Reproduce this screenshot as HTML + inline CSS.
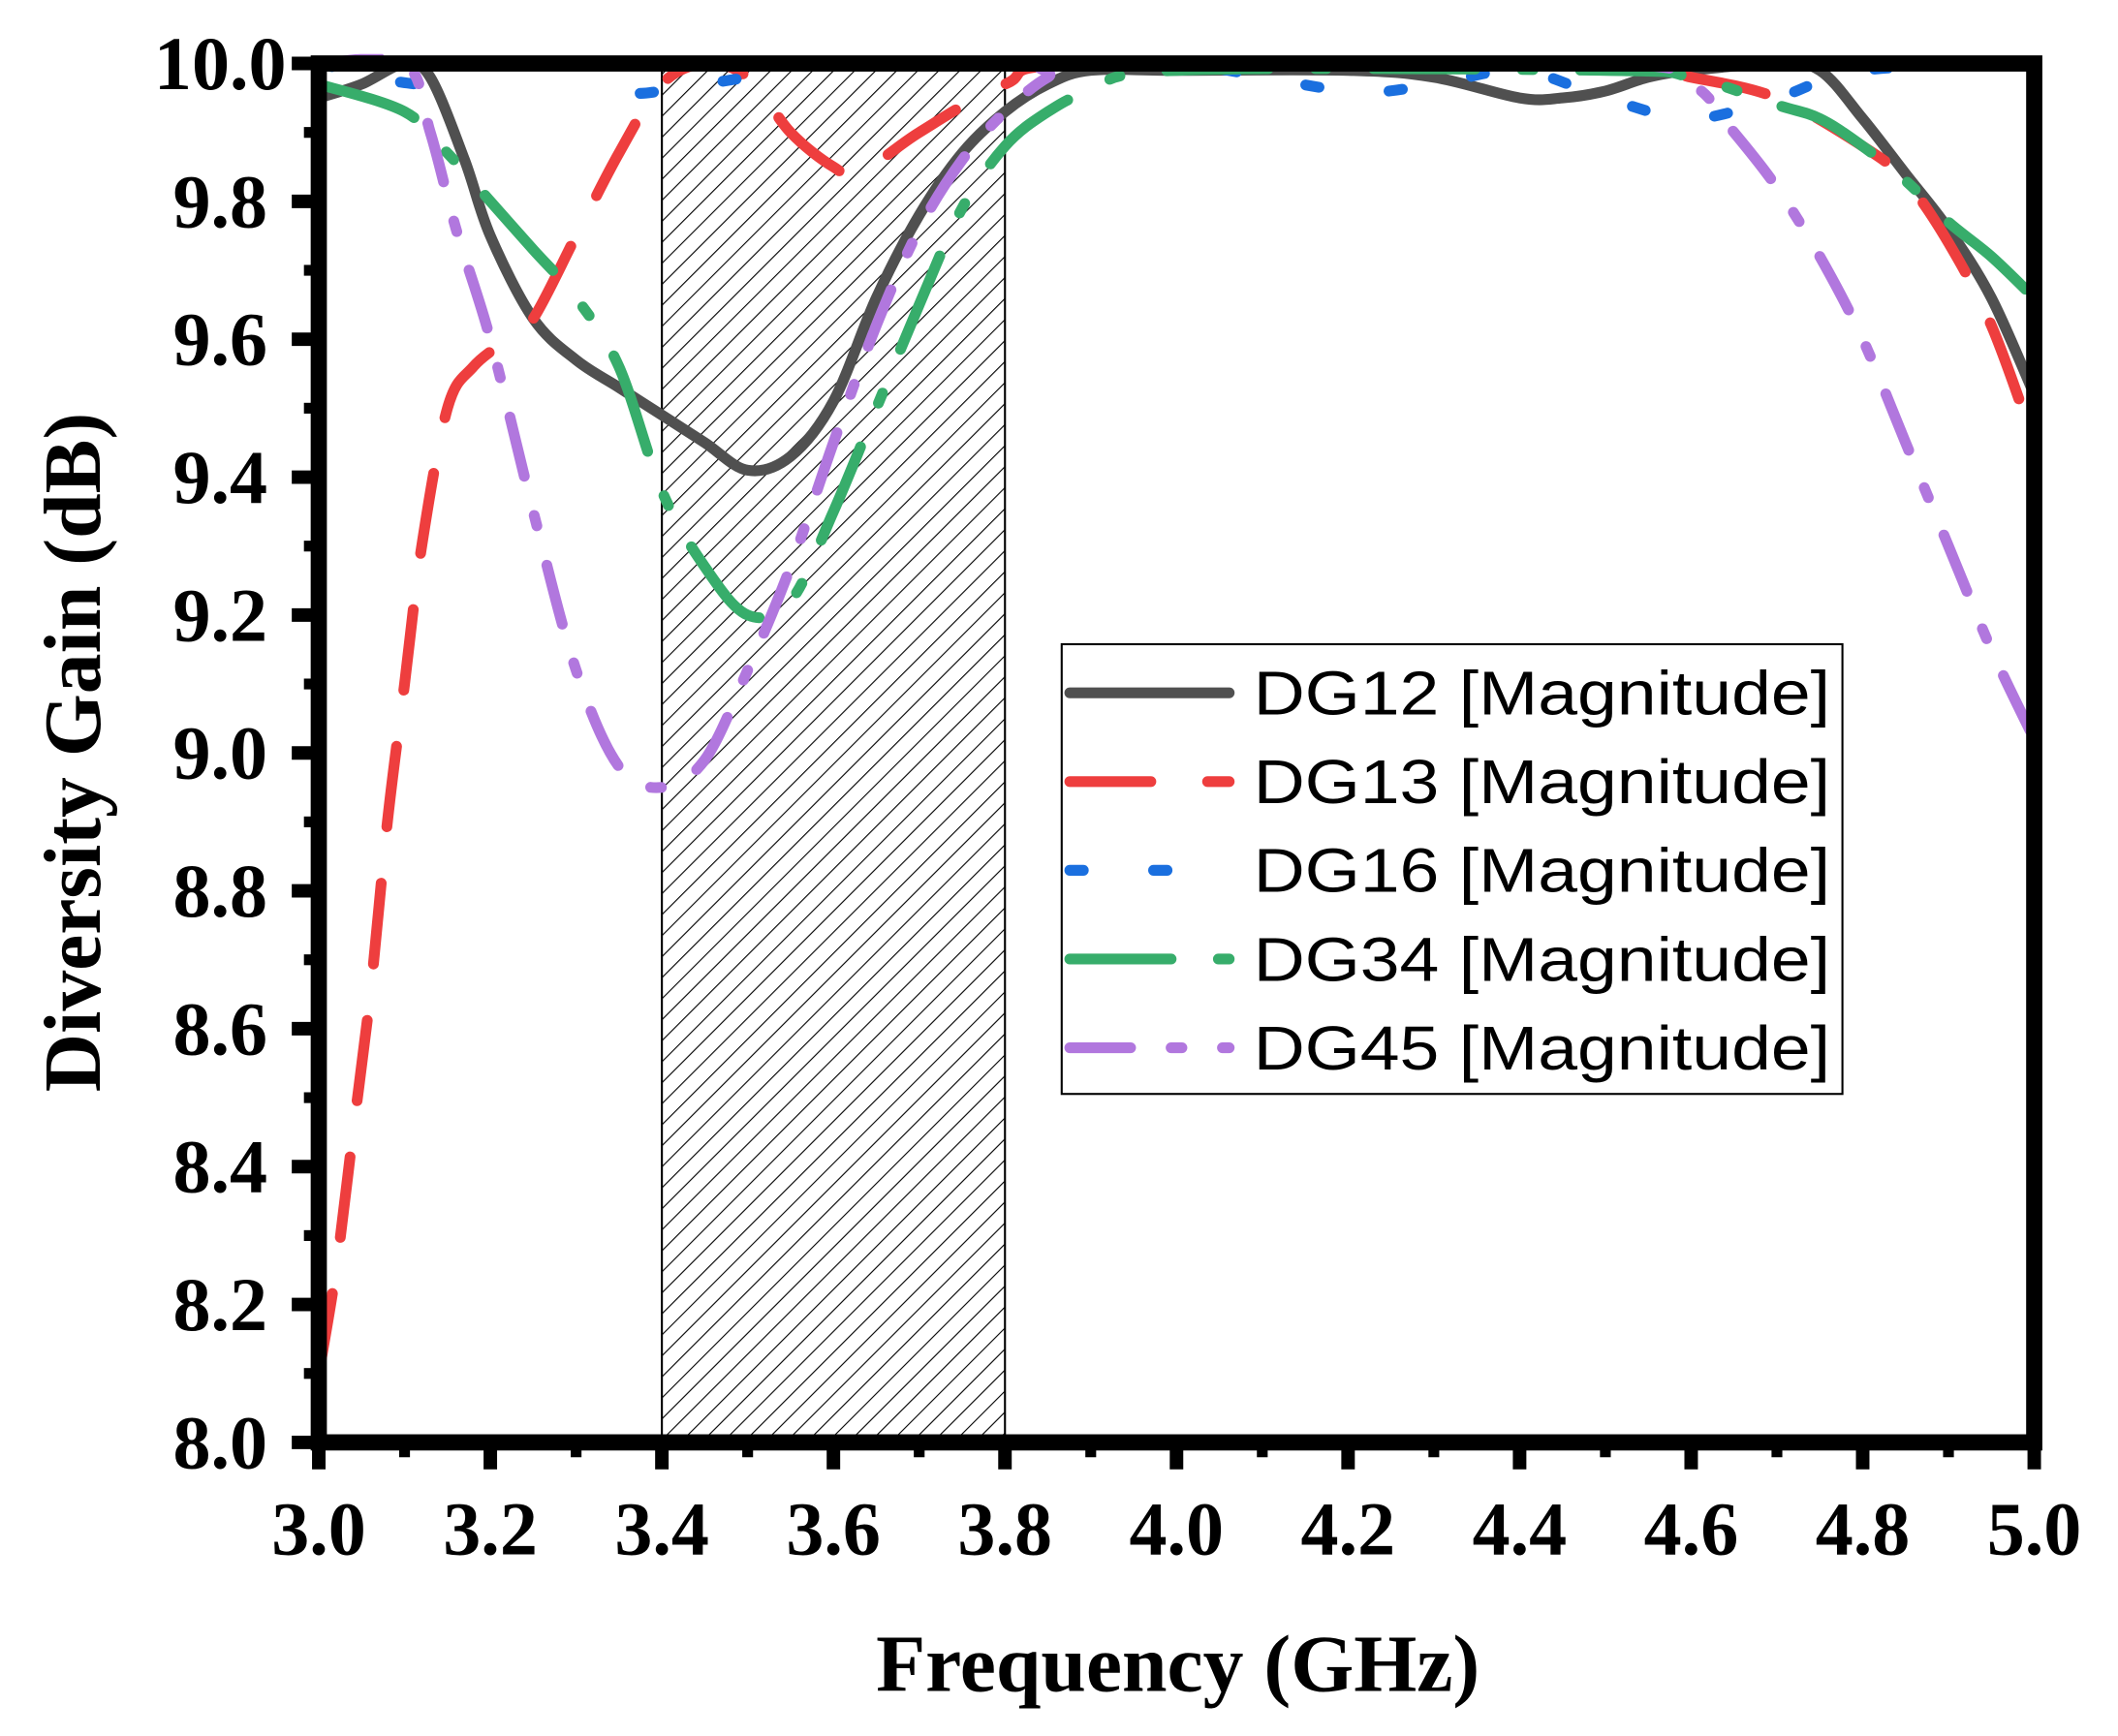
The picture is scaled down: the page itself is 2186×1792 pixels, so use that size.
<!DOCTYPE html>
<html><head><meta charset="utf-8"><style>html,body{margin:0;padding:0;background:#fff}svg{display:block}</style></head>
<body>
<svg id="chart" width="2186" height="1792" viewBox="0 0 1568 1285.4" xmlns="http://www.w3.org/2000/svg">
<defs>
<pattern id="hatch" patternUnits="userSpaceOnUse" width="11" height="11" patternTransform="rotate(45)">
<line x1="0" y1="0" x2="0" y2="11" stroke="#000" stroke-width="1.6"/>
</pattern>
<clipPath id="plotclip"><rect x="236" y="40" width="1270" height="1028"/></clipPath>
</defs>
<rect x="0" y="0" width="1568" height="1285.4" fill="#fff"/>
<g id="hatchg"></g>
<g id="series" clip-path="url(#plotclip)"></g>
<g id="axes"></g>
<g id="legend"></g>
<text x="872" y="1252" text-anchor="middle" font-family="Liberation Serif, serif" font-weight="bold" font-size="60">Frequency (GHz)</text>
<text transform="translate(74,557) rotate(-90)" text-anchor="middle" font-family="Liberation Serif, serif" font-weight="bold" font-size="60">Diversity Gain (dB)</text>
</svg>
<script>
const xTicks=[3.0,3.2,3.4,3.6,3.8,4.0,4.2,4.4,4.6,4.8,5.0];
const yTicks=[8.0,8.2,8.4,8.6,8.8,9.0,9.2,9.4,9.6,9.8,10.0];
const band=[3.4,3.8];
const dg12x=[3.0,3.05,3.1,3.13,3.17,3.2,3.25,3.3,3.35,3.4,3.45,3.5,3.55,3.6,3.65,3.7,3.75,3.8,3.85,3.9,4.0,4.2,4.3,4.4,4.45,4.5,4.55,4.6,4.7,4.75,4.8,4.85,4.9,4.95,5.0];
const dg12y=[9.95,9.97,10.0,9.98,9.86,9.75,9.63,9.57,9.53,9.49,9.45,9.41,9.43,9.51,9.66,9.78,9.87,9.93,9.97,9.99,9.99,9.99,9.98,9.95,9.95,9.96,9.98,9.99,10.0,9.99,9.92,9.84,9.76,9.66,9.52];
const dg13x=[3.0,3.02,3.04,3.06,3.08,3.1,3.12,3.15,3.18,3.22,3.25,3.3,3.35,3.4,3.45,3.5,3.55,3.6,3.63,3.7,3.8,3.9,4.5,4.6,4.7,4.8,4.85,4.9,4.95,5.0];
const dg13y=[8.1,8.25,8.45,8.65,8.9,9.1,9.3,9.5,9.56,9.6,9.63,9.75,9.87,9.97,10.0,9.98,9.9,9.85,9.84,9.9,9.97,10.0,10.0,9.98,9.95,9.88,9.83,9.74,9.62,9.45];
const dg16x=[3.0,3.12,3.2,3.3,3.36,3.4,3.45,3.5,3.6,3.8,4.0,4.2,4.3,4.4,4.5,4.6,4.7,4.8,5.0];
const dg16y=[10.0,9.97,10.0,10.0,9.96,9.96,9.97,9.98,10.0,10.0,10.0,9.96,9.97,9.99,9.95,9.92,9.95,9.99,10.0];
const dg34x=[3.0,3.1,3.15,3.2,3.25,3.3,3.35,3.4,3.45,3.5,3.55,3.6,3.65,3.7,3.75,3.8,3.85,3.9,4.0,4.5,4.6,4.7,4.75,4.8,4.85,4.9,4.95,5.0];
const dg34y=[9.97,9.93,9.87,9.8,9.73,9.66,9.56,9.38,9.27,9.2,9.22,9.35,9.5,9.65,9.79,9.88,9.93,9.96,9.99,9.99,9.98,9.94,9.92,9.88,9.83,9.77,9.72,9.66];
const dg45x=[3.0,3.1,3.13,3.16,3.2,3.25,3.3,3.35,3.4,3.45,3.5,3.55,3.6,3.65,3.7,3.75,3.8,3.85,3.9,4.5,4.6,4.65,4.7,4.75,4.8,4.85,4.9,4.95,5.0];
const dg45y=[10.0,10.0,9.9,9.76,9.6,9.35,9.12,8.98,8.95,8.99,9.12,9.27,9.45,9.62,9.76,9.86,9.93,9.98,10.0,10.0,9.97,9.9,9.82,9.72,9.6,9.45,9.3,9.15,9.02];
const seriesNames=["DG12 [Magnitude]","DG13 [Magnitude]","DG16 [Magnitude]","DG34 [Magnitude]","DG45 [Magnitude]"];

const NS="http://www.w3.org/2000/svg";
const X0=236,X1=1506,Y0=1068,Y1=47;
function sx(v){return X0+(v-3)/(5-3)*(X1-X0);}
function sy(v){return Y0-(v-8)/(10-8)*(Y0-Y1);}
function mk(tag,attrs,parent){const e=document.createElementNS(NS,tag);for(const k in attrs)e.setAttribute(k,attrs[k]);parent.appendChild(e);return e;}
function smoothPath(xs,ys){
  const p=xs.map((x,i)=>[sx(x),sy(ys[i])]);
  let d="M"+p[0][0]+","+p[0][1];
  for(let i=0;i<p.length-1;i++){
    const a=p[Math.max(0,i-1)],b=p[i],c=p[i+1],e=p[Math.min(p.length-1,i+2)];
    const c1=[b[0]+(c[0]-a[0])/6,b[1]+(c[1]-a[1])/6],c2=[c[0]-(e[0]-b[0])/6,c[1]-(e[1]-b[1])/6];
    d+=" C"+c1[0]+","+c1[1]+" "+c2[0]+","+c2[1]+" "+c[0]+","+c[1];
  }
  return d;
}
const hg=document.getElementById('hatchg');
const hb=mk('rect',{x:sx(band[0]),y:Y1,width:sx(band[1])-sx(band[0]),height:Y0-Y1,fill:'url(#hatch)',stroke:'#000','stroke-width':1.5},hg);



const styles=[
 {c:'#505050',dash:'',name:'dg12-line',xs:dg12x,ys:dg12y},
 {c:'#ee3e3e',dash:'60 42',name:'dg13-line',xs:dg13x,ys:dg13y},
 {c:'#1a6fdf',dash:'10 52',name:'dg16-line',xs:dg16x,ys:dg16y},
 {c:'#37ad6b',dash:'75 35 8 35',name:'dg34-line',xs:dg34x,ys:dg34y},
 {c:'#b177de',dash:'45 30 8 30',name:'dg45-line',xs:dg45x,ys:dg45y}
];
const sg=document.getElementById('series');
styles.forEach(s=>{
  const el=mk('path',{d:smoothPath(s.xs,s.ys),fill:'none',stroke:s.c,'stroke-width':8,'stroke-linecap':'round','stroke-linejoin':'round','stroke-dasharray':s.dash},sg);
  
  
});
const ag=document.getElementById('axes');
const frame=mk('rect',{x:X0,y:Y1,width:X1-X0,height:Y0-Y1,fill:'none',stroke:'#000','stroke-width':12},ag);


xTicks.forEach((t,i)=>{
  const x=sx(t);
  const tk=mk('line',{x1:x,y1:Y0,x2:x,y2:Y0+20,stroke:'#000','stroke-width':10},ag);
  
  
  if(i<xTicks.length-1){
    const mx=sx(t+0.1);
    const mt=mk('line',{x1:mx,y1:Y0,x2:mx,y2:Y0+11,stroke:'#000','stroke-width':8},ag);
    
    
  }
  const lb=mk('text',{x:x,y:1151,'text-anchor':'middle','font-family':'Liberation Serif, serif','font-weight':'bold','font-size':56},ag);
  lb.textContent=t.toFixed(1);
  
  
});
yTicks.forEach((t,i)=>{
  const y=sy(t);
  const tk=mk('line',{x1:X0,y1:y,x2:X0-20,y2:y,stroke:'#000','stroke-width':10},ag);
  
  
  if(i<yTicks.length-1){
    const my=sy(t+0.1);
    const mt=mk('line',{x1:X0,y1:my,x2:X0-11,y2:my,stroke:'#000','stroke-width':8},ag);
    
    
  }
  const lb=mk('text',{x:163,y:y+19,'text-anchor':'middle','font-family':'Liberation Serif, serif','font-weight':'bold','font-size':56},ag);
  lb.textContent=t.toFixed(1);
  
  
});
const lg=document.getElementById('legend');
const lbx=mk('rect',{x:786,y:477,width:578,height:333,fill:'#fff',stroke:'#000','stroke-width':1.5},lg);


styles.forEach((s,i)=>{
  const y=513+i*65.7;
  const ln=mk('line',{x1:792,y1:y,x2:910,y2:y,stroke:s.c,'stroke-width':8,'stroke-linecap':'round','stroke-dasharray':s.dash},lg);
  
  
  const tx=mk('text',{x:928,y:y+16,'font-family':'Liberation Sans, sans-serif','font-size':46,textLength:427,lengthAdjust:'spacingAndGlyphs'},lg);
  tx.textContent=seriesNames[i];
  
  
});
</script>
</body></html>
